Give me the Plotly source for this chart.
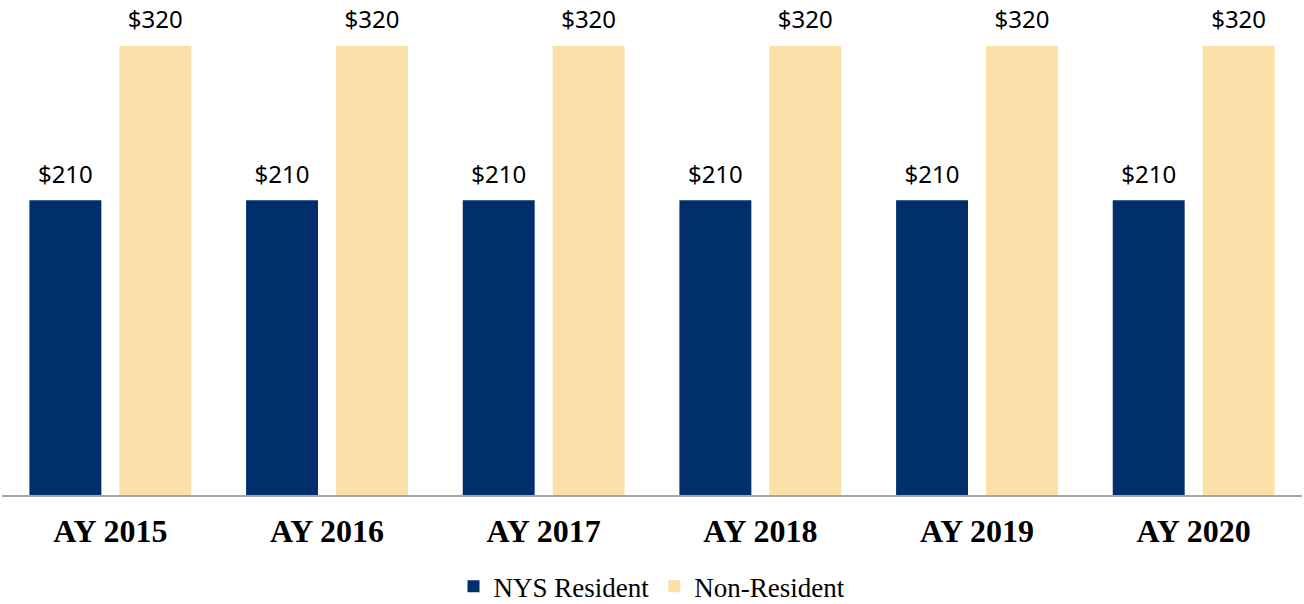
import plotly.graph_objects as go

categories = ["AY 2015", "AY 2016", "AY 2017", "AY 2018", "AY 2019", "AY 2020"]
resident = [210, 210, 210, 210, 210, 210]
non_resident = [320, 320, 320, 320, 320, 320]

NAVY = "#002F6C"
BEIGE = "#FBE1A9"
label_font = dict(family="Noto Sans", size=24, color="#000000")

fig = go.Figure()
fig.add_trace(go.Bar(
    x=categories, y=resident, name="NYS Resident", offsetgroup="a",
    marker=dict(color=NAVY, line=dict(width=0)),
))
fig.add_trace(go.Bar(
    x=categories, y=non_resident, name="Non-Resident", offsetgroup="b",
    marker=dict(color=BEIGE, line=dict(width=0)),
))
# value labels, grouped to sit over their bars
for vals, grp in ((resident, "a"), (non_resident, "b")):
    fig.add_trace(go.Scatter(
        x=categories, y=vals, mode="markers+text", offsetgroup=grp,
        text=[f"${v}" for v in vals], textposition="top center",
        textfont=label_font, marker=dict(size=17, opacity=0),
        showlegend=False, hoverinfo="skip", cliponaxis=False,
    ))

fig.update_layout(
    width=1304, height=604,
    margin=dict(l=2, r=2, t=0, b=109, autoexpand=False),
    paper_bgcolor="white", plot_bgcolor="white",
    barmode="group", bargap=0.17, bargroupgap=0.2,
    scattermode="group", scattergap=0.17,
    showlegend=True,
    legend=dict(orientation="h", x=0.5, xanchor="center", y=-0.136, yanchor="top",
                font=dict(family="Liberation Serif", size=27, color="#000000"),
                tracegroupgap=0),
    xaxis=dict(showline=True, linecolor="#A6A6A6", linewidth=2, ticks="",
               tickfont=dict(family="Liberation Serif", size=32, color="#000000", weight="bold"),
               ticklabelstandoff=7, showgrid=False, zeroline=False, automargin=False),
    yaxis=dict(range=[0, 352.8], visible=False, showgrid=False, zeroline=False, automargin=False),
)

fig.write_html("out.html", config={"displayModeBar": False},
               post_script="document.body.style.margin='0';")
